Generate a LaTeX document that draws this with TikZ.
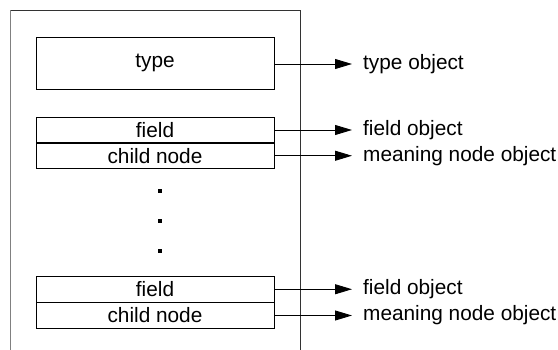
\documentclass[tikz,border=0pt]{standalone}
\usepackage{fontspec}
\setmainfont{Liberation Sans}
\usetikzlibrary{arrows.meta}
\begin{document}
\begin{tikzpicture}[x=1pt,y=-1pt,
  every node/.style={font=\fontsize{20.8}{24}\selectfont},
  slot/.style={draw=black, line width=0.9pt, minimum width=238pt, minimum height=26pt, inner sep=0pt},
  lbl/.style={anchor=west, inner sep=0pt},
  ptr/.style={line width=0.9pt, -{Triangle[length=17pt,width=10pt]}, shorten >=11pt},
  dotsq/.style={fill=black, minimum size=3.6pt, inner sep=0pt}]
  \useasboundingbox (0,0) rectangle (558,350);
  % enclosing record outline, open at the bottom
  \draw[line width=1.3pt, gray] (10.5,350) -- (10.5,10.5);
  \draw[line width=0.9pt, black!80] (10.5,10.5) -- (300.5,10.5) -- (300.5,350);
  % slots
  \node[slot, minimum height=52pt] (type) at (155,63) {type};
  \node[slot] (f1) at (155,130) {field};
  \node[slot] (c1) at (155,155.75) {child node};
  \node[slot] (f2) at (155,289.25) {field};
  \node[slot] (c2) at (155,315.5) {child node};
  % ellipsis
  \node[dotsq] (d1) at (160,191) {};
  \node[dotsq] (d2) at (160,221) {};
  \node[dotsq] (d3) at (160,251) {};
  % targets
  \node[lbl] (to) at (363,64) {type object};
  \node[lbl] (fo1) at (363,130) {field object};
  \node[lbl] (mo1) at (363,155.75) {meaning node object};
  \node[lbl] (fo2) at (363,289.25) {field object};
  \node[lbl] (mo2) at (363,315.5) {meaning node object};
  % pointers
  \draw[ptr] (type.east |- to.west) -- (to.west);
  \draw[ptr] (f1.east) -- (fo1.west);
  \draw[ptr] (c1.east) -- (mo1.west);
  \draw[ptr] (f2.east) -- (fo2.west);
  \draw[ptr] (c2.east) -- (mo2.west);
\end{tikzpicture}
\end{document}
